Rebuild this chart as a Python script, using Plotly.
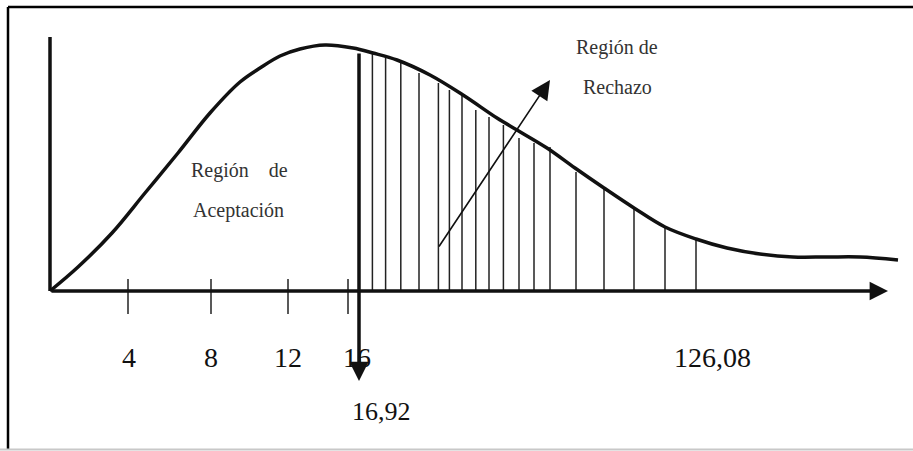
import plotly.graph_objects as go

# curve (schematic units: x ~ chi-square value, y ~ relative density)
curve_x = [0.0, 1.4, 3.1, 4.75, 6.4, 8.0, 9.5, 10.5, 11.5, 12.5, 13.75, 15.15, 16.15, 17.35,
           19.0, 20.65, 22.35, 23.35, 24.85, 26.25, 27.7, 29.2, 30.75, 32.3, 33.85, 35.5,
           37.15, 38.85, 40.5, 42.4]
curve_y = [0.0, 0.096, 0.232, 0.392, 0.552, 0.712, 0.836, 0.892, 0.94, 0.968, 0.984, 0.972,
           0.952, 0.924, 0.864, 0.784, 0.692, 0.644, 0.572, 0.492, 0.412, 0.332, 0.256,
           0.208, 0.172, 0.148, 0.136, 0.136, 0.136, 0.124]

# hatching of the rejection region
hatch_x = [16.12, 16.78, 17.54, 18.45, 19.42, 19.97, 20.6, 21.29, 21.95, 22.67, 23.45,
           24.2, 25.0, 26.3, 27.7, 29.2, 30.75, 32.3]
hatch_top = [0.952, 0.932, 0.912, 0.872, 0.832, 0.804, 0.792, 0.724, 0.696, 0.664, 0.612,
             0.592, 0.576, 0.476, 0.412, 0.332, 0.256, 0.208]

tick_pos = [3.9, 8.05, 11.9, 14.9]
tick_labels = ["4", "8", "12", "16"]
tick_label_pos = [3.95, 8.05, 11.9, 15.35]

critical_value = 15.45
critical_label = "16,92"
upper_label = "126,08"
upper_label_pos = 33.1

x_max = 41.9
y_max = 1.016

fig = go.Figure()

# hatch lines
hx, hy = [], []
for x, top in zip(hatch_x, hatch_top):
    hx += [x, x, None]
    hy += [0, top, None]
fig.add_trace(go.Scatter(x=hx, y=hy, mode="lines",
                         line=dict(color="#222222", width=1.5), hoverinfo="skip"))

# tick marks on the x axis
tx, ty = [], []
for x in tick_pos:
    tx += [x, x, None]
    ty += [0.048, -0.092, None]
fig.add_trace(go.Scatter(x=tx, y=ty, mode="lines",
                         line=dict(color="#222222", width=1.5), hoverinfo="skip"))

# y axis
fig.add_trace(go.Scatter(x=[0, 0], y=[0, y_max], mode="lines",
                         line=dict(color="#111111", width=3.5), hoverinfo="skip"))

# density curve
fig.add_trace(go.Scatter(x=curve_x, y=curve_y, mode="lines",
                         line=dict(color="#111111", width=3.5, shape="spline", smoothing=1.0),
                         hoverinfo="skip"))

arrow = dict(xref="x", yref="y", axref="x", ayref="y", text="", showarrow=True,
             arrowhead=2, arrowcolor="#111111")

# x axis with arrow
fig.add_annotation(x=x_max, y=0, ax=0, ay=0, arrowwidth=3.5, arrowsize=1.05, **arrow)
# critical value arrow
fig.add_annotation(x=critical_value, y=-0.36, ax=critical_value, ay=0.956,
                   arrowwidth=3.5, arrowsize=1.1, **arrow)
# pointer to rejection region label
fig.add_annotation(x=25.0, y=0.844, ax=19.4, ay=0.172, arrowwidth=1.6, arrowsize=2.4, **arrow)

num_font = dict(family="Liberation Serif, Times New Roman, serif", size=28, color="#111111")
for x, lab in zip(tick_label_pos, tick_labels):
    fig.add_annotation(x=x, y=-0.264, text=lab, showarrow=False, font=num_font)
fig.add_annotation(x=upper_label_pos, y=-0.264, text=upper_label, showarrow=False, font=num_font)
fig.add_annotation(x=16.55, y=-0.48, text=critical_label, showarrow=False,
                   font=dict(num_font, size=26))

txt_font = dict(family="Liberation Serif, Times New Roman, serif", size=20, color="#333333")
fig.add_annotation(x=9.45, y=0.484, text="Región\u00a0\u00a0\u00a0\u00a0de", showarrow=False, font=txt_font)
fig.add_annotation(x=9.4, y=0.324, text="Aceptación", showarrow=False, font=txt_font)
fig.add_annotation(x=28.35, y=0.976, text="Región de", showarrow=False, font=txt_font)
fig.add_annotation(x=28.35, y=0.816, text="Rechazo", showarrow=False, font=txt_font)

# frame around the picture
W, H = 913, 451
fig.add_shape(type="line", xref="paper", yref="paper", x0=8 / W, x1=1, y0=1 - 7 / H, y1=1 - 7 / H,
              line=dict(color="#000000", width=2.5))
fig.add_shape(type="line", xref="paper", yref="paper", x0=8 / W, x1=8 / W, y0=1 - 7 / H, y1=1 - 449 / H,
              line=dict(color="#000000", width=2.5))
fig.add_shape(type="line", xref="paper", yref="paper", x0=0, x1=1, y0=1 - 449.5 / H, y1=1 - 449.5 / H,
              line=dict(color="#c8c8c8", width=2))

fig.update_layout(width=W, height=H, margin=dict(l=0, r=0, t=0, b=0),
                  paper_bgcolor="white", plot_bgcolor="white", showlegend=False,
                  xaxis=dict(visible=False, range=[-2.5, 43.15], fixedrange=True),
                  yaxis=dict(visible=False, range=[-0.64, 1.164], fixedrange=True))

# the page body has a default 8px margin; remove it so the figure fills the window
fig.write_html("out.html", config={"displayModeBar": False},
               post_script="document.body.style.margin='0';")
